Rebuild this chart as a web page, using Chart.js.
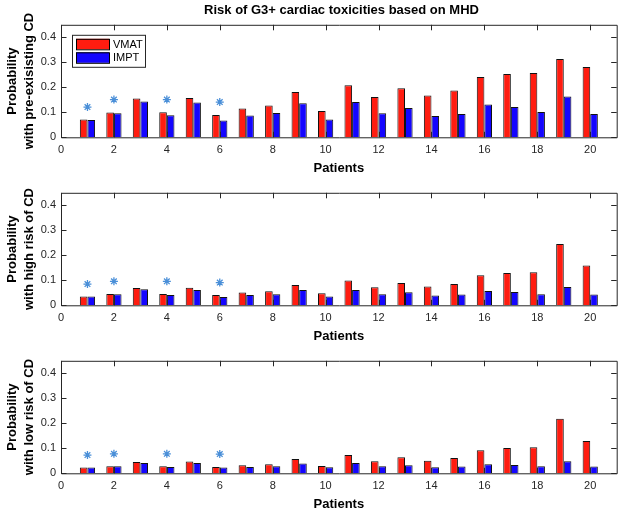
<!DOCTYPE html>
<html>
<head>
<meta charset="utf-8">
<script src="https://cdn.jsdelivr.net/npm/chart.js@4.4.1/dist/chart.umd.min.js"></script>
<style>
  html, body { margin: 0; padding: 0; background: #fff; overflow: hidden; }
  #wrap { position: relative; width: 622px; height: 515px; }
  #wrap canvas { position: absolute; left: 0; }
</style>
</head>
<body>
<div id="wrap">
  <canvas id="c1" width="622" height="180" style="top:0px"></canvas>
  <canvas id="c2" width="622" height="180" style="top:168px"></canvas>
  <canvas id="c3" width="622" height="180" style="top:336px"></canvas>
</div>
<script>
// patients 1..20
const patients = [1, 2, 3, 4, 5, 6, 7, 8, 9, 10, 11, 12, 13, 14, 15, 16, 17, 18, 19, 20];

// pre-existing CD
const vmatPre = [0.071, 0.099, 0.155, 0.100, 0.157, 0.089, 0.115, 0.127, 0.181, 0.105,
                 0.208, 0.161, 0.196, 0.167, 0.187, 0.241, 0.253, 0.257, 0.313, 0.281];
const imptPre = [0.069, 0.096, 0.143, 0.088, 0.139, 0.067, 0.087, 0.097, 0.136, 0.071,
                 0.141, 0.096, 0.117, 0.085, 0.093, 0.131, 0.121, 0.101, 0.163, 0.093];

// high risk of CD
const vmatHigh = [0.035, 0.045, 0.069, 0.045, 0.070, 0.041, 0.051, 0.056, 0.081, 0.048,
                  0.099, 0.072, 0.089, 0.075, 0.085, 0.120, 0.129, 0.132, 0.245, 0.159];
const imptHigh = [0.035, 0.044, 0.064, 0.041, 0.061, 0.033, 0.041, 0.044, 0.061, 0.035,
                  0.061, 0.044, 0.052, 0.039, 0.043, 0.057, 0.053, 0.044, 0.073, 0.043];

// low risk of CD
const vmatLow = [0.023, 0.028, 0.045, 0.028, 0.047, 0.025, 0.032, 0.036, 0.057, 0.029,
                 0.073, 0.048, 0.064, 0.050, 0.061, 0.092, 0.101, 0.104, 0.218, 0.129];
const imptLow = [0.023, 0.028, 0.041, 0.025, 0.041, 0.023, 0.025, 0.028, 0.039, 0.024,
                 0.041, 0.028, 0.032, 0.024, 0.027, 0.036, 0.033, 0.028, 0.048, 0.027];

// asterisk markers
const starPatients = [1, 2, 4, 6];
const starPre = [0.121, 0.151, 0.151, 0.141];
const starHigh = [0.085, 0.096, 0.096, 0.091];
const starLow = [0.073, 0.078, 0.078, 0.077];

const yTitles = [
  ['Probability', 'with pre-exisisting CD'],
  ['Probability', 'with high risk of CD'],
  ['Probability', 'with low risk of CD']
];
const chartTitle = 'Risk of G3+ cardiac toxicities based on MHD';

const FONT = "'Liberation Sans', Arial, Helvetica, sans-serif";
const AXIS = '#262626';

const xy = (xs, ys) => xs.map((x, i) => ({x: x, y: ys[i]}));

// MATLAB style box with inward ticks
const boxPlugin = {
  id: 'box',
  afterDatasetsDraw(chart) {
    const {ctx, chartArea: a, scales: {x, y}} = chart;
    const tl = 5.5;
    ctx.save();
    ctx.strokeStyle = AXIS;
    ctx.lineWidth = 1;
    ctx.beginPath();
    ctx.rect(a.left + 0.5, a.top + 0.5, a.right - a.left, a.bottom - a.top);
    x.ticks.forEach(t => {
      const px = Math.round(x.getPixelForValue(t.value)) + 0.5;
      ctx.moveTo(px, a.bottom); ctx.lineTo(px, a.bottom - tl);
      ctx.moveTo(px, a.top); ctx.lineTo(px, a.top + tl);
    });
    y.ticks.forEach(t => {
      const py = Math.round(y.getPixelForValue(t.value)) + 0.5;
      ctx.moveTo(a.left, py); ctx.lineTo(a.left + tl, py);
      ctx.moveTo(a.right, py); ctx.lineTo(a.right - tl, py);
    });
    ctx.stroke();
    ctx.restore();
  }
};

// title + legend on top plot
const topPlugin = {
  id: 'topDeco',
  afterDraw(chart) {
    const {ctx, chartArea: a} = chart;
    ctx.save();
    ctx.fillStyle = '#000';
    ctx.font = 'bold 13px ' + FONT;
    ctx.textAlign = 'center';
    ctx.textBaseline = 'middle';
    ctx.fillText(chartTitle, (a.left + 622) / 2, 10);

    const bx = a.left + 11, by = a.top + 10, bw = 73, bh = 32;
    ctx.fillStyle = '#fff';
    ctx.fillRect(bx, by, bw, bh);
    ctx.strokeStyle = AXIS;
    ctx.lineWidth = 1;
    ctx.strokeRect(bx + 0.5, by + 0.5, bw, bh);
    const items = chart.data.datasets.filter(d => d.type !== 'scatter');
    items.forEach((d, i) => {
      const ry = by + 4 + i * 13.5;
      ctx.fillStyle = d.backgroundColor;
      ctx.fillRect(bx + 4, ry, 33, 10.5);
      ctx.strokeStyle = '#000';
      ctx.strokeRect(bx + 4.5, ry + 0.5, 33, 10.5);
      ctx.fillStyle = '#000';
      ctx.font = '11px ' + FONT;
      ctx.textAlign = 'left';
      ctx.fillText(d.label, bx + 41, ry + 6);
    });
    ctx.restore();
  }
};

function makeChart(id, vmat, impt, stars, yTitle, withTop) {
  return new Chart(document.getElementById(id), {
    type: 'bar',
    data: {
      datasets: [
        {
          label: 'VMAT',
          data: xy(patients, vmat),
          backgroundColor: '#ff1c10',
          borderColor: '#111',
          borderWidth: 1,
          borderSkipped: 'bottom',
          categoryPercentage: 0.575,
          barPercentage: 1.0
        },
        {
          label: 'IMPT',
          data: xy(patients, impt),
          backgroundColor: '#1405ff',
          borderColor: '#111',
          borderWidth: 1,
          borderSkipped: 'bottom',
          categoryPercentage: 0.575,
          barPercentage: 1.0
        },
        {
          type: 'scatter',
          label: 'sig',
          data: xy(starPatients, stars),
          pointStyle: 'star',
          pointRadius: 4,
          borderColor: '#4a8fd8',
          backgroundColor: '#4a8fd8',
          borderWidth: 1.3
        }
      ]
    },
    options: {
      responsive: false,
      animation: false,
      events: [],
      layout: { padding: { top: 24.8, left: 0, right: 0, bottom: 0 } },
      plugins: {
        legend: { display: false },
        tooltip: { enabled: false }
      },
      scales: {
        x: {
          type: 'linear',
          min: 0,
          max: 21,
          offset: false,
          grid: { display: false, drawTicks: false, tickLength: 0 },
          border: { display: false },
          ticks: {
            stepSize: 2,
            includeBounds: false,
            padding: 6,
            color: AXIS,
            font: { family: FONT, size: 11 }
          },
          title: {
            display: true,
            text: 'Patients',
            color: '#000',
            font: { family: FONT, size: 13, weight: 'bold' },
            padding: { top: 0, bottom: 4 }
          },
          afterFit: s => { s.height = 180 - 137.3; }
        },
        y: {
          min: 0,
          max: 0.45,
          grid: { display: false, drawTicks: false, tickLength: 0 },
          border: { display: false },
          ticks: {
            stepSize: 0.1,
            includeBounds: false,
            padding: 5,
            color: AXIS,
            font: { family: FONT, size: 11 },
            callback: v => v === 0 ? '0' : v.toFixed(1)
          },
          title: {
            display: true,
            text: yTitle,
            color: '#000',
            font: { family: FONT, size: 13, weight: 'bold', lineHeight: 1.38 },
            padding: { top: 3, bottom: 0 }
          },
          afterFit: s => { s.width = 61; }
        }
      }
    },
    plugins: withTop ? [boxPlugin, topPlugin] : [boxPlugin]
  });
}

makeChart('c1', vmatPre, imptPre, starPre, yTitles[0], true);
makeChart('c2', vmatHigh, imptHigh, starHigh, yTitles[1], false);
makeChart('c3', vmatLow, imptLow, starLow, yTitles[2], false);
</script>
</body>
</html>
